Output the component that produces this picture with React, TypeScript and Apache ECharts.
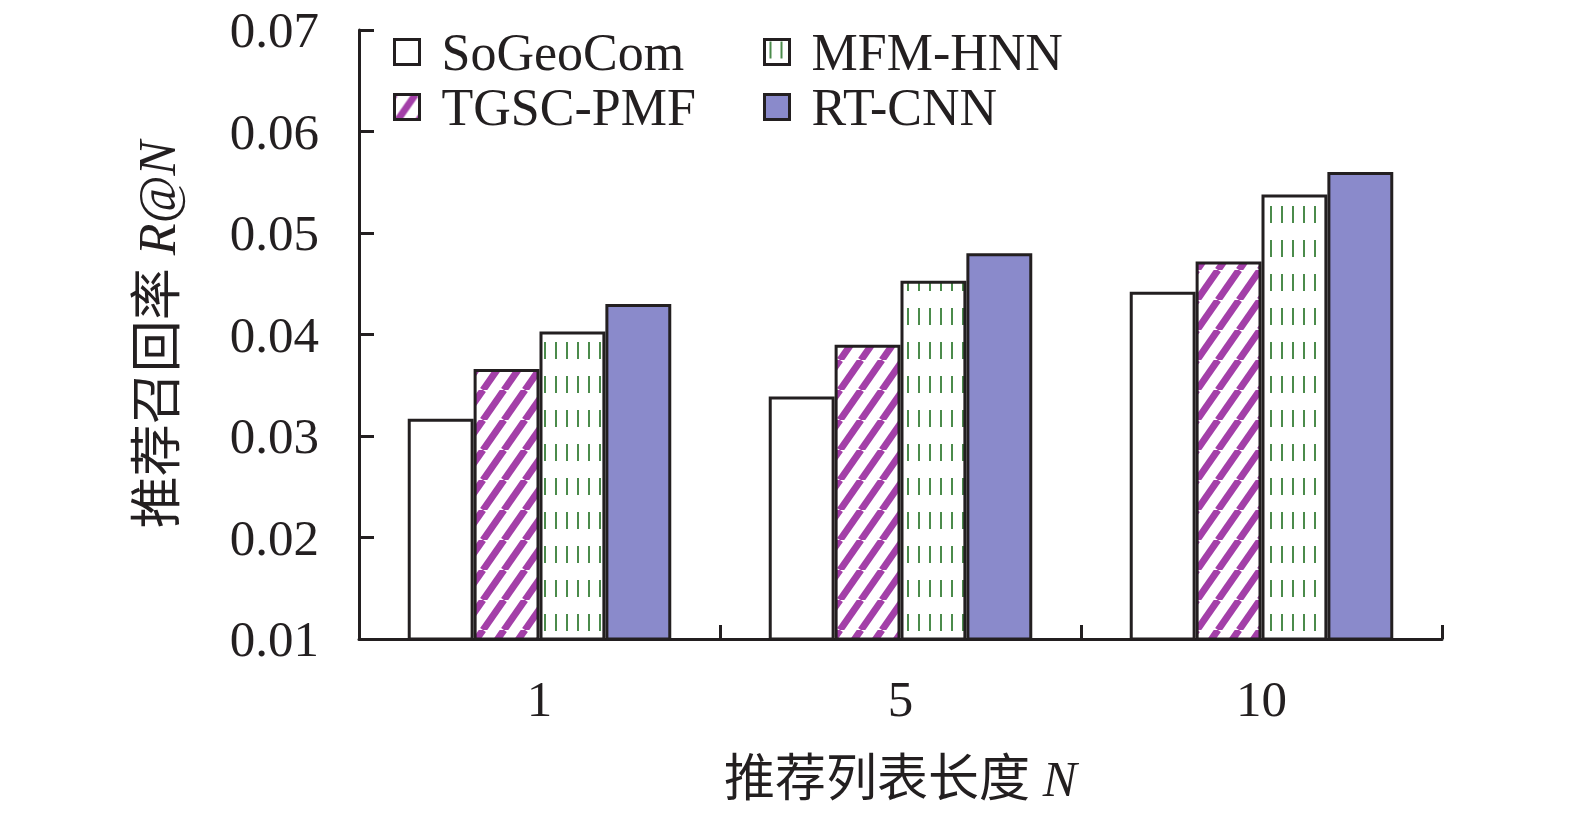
import React, { useEffect, useRef } from "react";
import * as echarts from "echarts";

const categories = ["1", "5", "10"];
const seriesNames = ["SoGeoCom", "TGSC-PMF", "MFM-HNN", "RT-CNN"];
const soGeoCom = [0.0317, 0.0339, 0.0442];
const tgscPmf = [0.0366, 0.039, 0.0472];
const mfmHnn = [0.0403, 0.0453, 0.0538];
const rtCnn = [0.043, 0.048, 0.056];
const yTicks = { min: 0.01, max: 0.07, interval: 0.01 };

const FONT = "'Liberation Serif', 'Times New Roman', 'Noto Sans CJK SC', serif";
const INK = "#231f20";

function makeStripe() {
  const w = 21, h = 30;
  const c = document.createElement("canvas");
  c.width = w; c.height = h;
  const ctx = c.getContext("2d")!;
  ctx.fillStyle = "#ffffff";
  ctx.fillRect(0, 0, w, h);
  ctx.strokeStyle = "#a33fa8";
  ctx.lineWidth = 7;
  for (const off of [-w, 0, w]) {
    ctx.beginPath();
    ctx.moveTo(off, h);
    ctx.lineTo(off + w, 0);
    ctx.stroke();
  }
  return { image: c, repeat: "repeat", imageWidth: w, imageHeight: h };
}

function makeDash() {
  const w = 11, h = 34;
  const c = document.createElement("canvas");
  c.width = w; c.height = h;
  const ctx = c.getContext("2d")!;
  ctx.fillStyle = "#ffffff";
  ctx.fillRect(0, 0, w, h);
  ctx.fillStyle = "#4b8b4b";
  ctx.fillRect(5, 2, 2, 17);
  return { image: c, repeat: "repeat", imageWidth: w, imageHeight: h };
}

export default function App() {
  const ref = useRef<HTMLDivElement>(null);
  useEffect(() => {
    const chart = echarts.init(ref.current!, null, { renderer: "svg" });
    const stripe = makeStripe();
    const dash = makeDash();
    const border = { borderColor: INK, borderWidth: 3 };
    const legendCommon = {
      orient: "vertical",
      top: 26,
      padding: 0,
      itemWidth: 25,
      itemHeight: 25,
      itemGap: 3,
      icon: "rect",
      itemStyle: { borderColor: INK, borderWidth: 3 },
      formatter: (name: string) => "{g|}" + name,
      textStyle: {
        fontFamily: FONT,
        fontSize: 52,
        color: INK,
        lineHeight: 52,
        rich: { g: { width: 17 } },
      },
    };
    const option: any = {
      animation: false,
      backgroundColor: "#ffffff",
      grid: { left: 359, right: 133, top: 30, bottom: 178, containLabel: false },
      legend: [
        { ...legendCommon, left: 393, data: [seriesNames[0], seriesNames[1]] },
        { ...legendCommon, left: 763, data: [seriesNames[2], seriesNames[3]] },
      ],
      xAxis: {
        type: "category",
        data: categories,
        name: "推荐列表长度 {i|N}",
        nameLocation: "middle",
        nameGap: 114,
        nameTextStyle: {
          fontFamily: FONT,
          fontSize: 51,
          color: INK,
          rich: { i: { fontFamily: FONT, fontSize: 51, fontStyle: "italic", color: INK } },
        },
        axisLine: { show: true, lineStyle: { color: INK, width: 3 } },
        axisTick: {
          show: true,
          interval: 0,
          alignWithLabel: false,
          inside: true,
          length: 14,
          lineStyle: { color: INK, width: 3 },
        },
        axisLabel: { margin: 34, fontFamily: FONT, fontSize: 51, color: INK },
      },
      yAxis: {
        type: "value",
        min: yTicks.min,
        max: yTicks.max,
        interval: yTicks.interval,
        name: "推荐召回率 {i|R@N}",
        nameLocation: "middle",
        nameRotate: 90,
        nameGap: 176,
        nameTextStyle: {
          fontFamily: FONT,
          fontSize: 52,
          color: INK,
          rich: { i: { fontFamily: FONT, fontSize: 52, fontStyle: "italic", color: INK } },
        },
        splitLine: { show: false },
        axisLine: { show: true, lineStyle: { color: INK, width: 3 } },
        axisTick: { show: true, inside: true, length: 15, lineStyle: { color: INK, width: 3 } },
        axisLabel: {
          margin: 40,
          fontFamily: FONT,
          fontSize: 51,
          color: INK,
          formatter: (v: number) => v.toFixed(2),
        },
      },
      series: [
        {
          name: seriesNames[0], type: "bar", data: soGeoCom,
          barGap: "0%", barCategoryGap: "27%",
          itemStyle: { color: "#ffffff", ...border },
        },
        {
          name: seriesNames[1], type: "bar", data: tgscPmf,
          itemStyle: { color: stripe, ...border },
        },
        {
          name: seriesNames[2], type: "bar", data: mfmHnn,
          itemStyle: { color: dash, ...border },
        },
        {
          name: seriesNames[3], type: "bar", data: rtCnn,
          itemStyle: { color: "#8a8acb", ...border },
        },
      ],
    };
    chart.setOption(option);
    return () => chart.dispose();
  }, []);
  return (
    <div
      ref={ref}
      style={{ position: "absolute", left: 0, top: 0, width: 1575, height: 817, background: "#fff" }}
    />
  );
}
